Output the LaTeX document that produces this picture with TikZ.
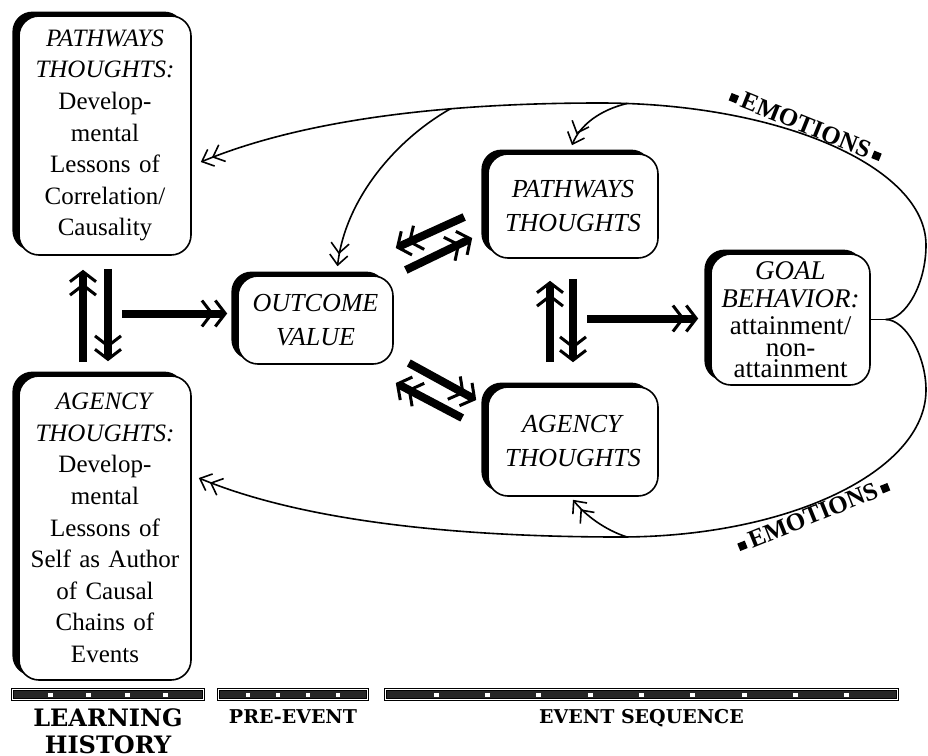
\documentclass[tikz,border=0pt]{standalone}
\usepackage{fontspec}
\setmainfont{Liberation Serif}
\newfontfamily\phasefont{DejaVu Serif}
\usetikzlibrary{arrows.meta}
\usetikzlibrary{calc}
\usetikzlibrary{shadows}
\usetikzlibrary{positioning}

\newcommand{\boxfont}{\fontsize{12.5}{15.8}\selectfont}
\newcommand{\midfont}{\fontsize{13}{17}\selectfont}
\newcommand{\goalfont}{\fontsize{13.5}{15}\selectfont}

% phase bar: name, left x, right x, number of flecks
\newcommand{\phasebar}[4]{%
  \node[phasebar, minimum width={(#3-#2)*0.5pt}, anchor=west] (#1) at (#2,694.5) {};
  \foreach \k in {1,...,#4}
  {
    \pgfmathsetmacro{\fr}{\k/(#4+1)}
    \fill[white] ($(#1.west)!\fr!(#1.east)$) ++(-1.2pt,-1pt) rectangle ++(2.4pt,2pt);
  }
}

\tikzset{
  thoughtbox/.style={draw, line width=0.8pt, rounded corners=10pt, fill=white,
    drop shadow={shadow xshift=-3.3pt, shadow yshift=2.2pt, opacity=1, fill=black},
    align=center, inner sep=1pt},
  fat/.style={line width=4pt,
    -{Straight Barb[length=5pt,width=13pt,line width=1.5pt] Straight Barb[length=5pt,width=13pt,line width=1.5pt]}},
  loopline/.style={line width=0.8pt},
  looparrow/.style={line width=0.8pt,
    -{Straight Barb[length=5pt,width=9pt] Straight Barb[length=5pt,width=9pt]}},
  phasebar/.style={draw, fill=black!85, double=white, double distance=0.5pt, line width=0.5pt,
    minimum height=5pt, inner sep=0pt},
  phaselabel/.style={font=\phasefont\bfseries\fontsize{9.5}{13}\selectfont, align=center, inner sep=0pt},
  emotion/.style={font=\bfseries\fontsize{12.5}{13}\selectfont, inner sep=0pt}
}

\begin{document}
\begin{tikzpicture}[x=0.5pt,y=-0.5pt]
  \useasboundingbox (0,0) rectangle (928,756);

  % Learning history
  \node[thoughtbox, minimum width=86pt, minimum height=119.5pt, text width=84pt, font=\boxfont] (pwl) at (105,135.5)
    {\textit{PATHWAYS}\\\textit{THOUGHTS:}\\Develop-\\mental\\Lessons of\\Correlation/\\Causality};
  \node[thoughtbox, minimum width=86pt, minimum height=152pt, text width=84pt, font=\boxfont] (agl) at (105,528)
    {\textit{AGENCY}\\\textit{THOUGHTS:}\\Develop-\\mental\\Lessons of\\Self as Author\\of Causal\\Chains of\\Events};

  % Pre-event
  \node[thoughtbox, minimum width=77.5pt, minimum height=44pt, font=\midfont] (ov) at (315.5,320)
    {\textit{OUTCOME}\\\textit{VALUE}};

  % Event sequence
  \node[thoughtbox, minimum width=85pt, minimum height=52pt, font=\midfont] (pt) at (573,206)
    {\textit{PATHWAYS}\\\textit{THOUGHTS}};
  \node[thoughtbox, minimum width=85pt, minimum height=54.5pt, font=\midfont] (at) at (573,441.5)
    {\textit{AGENCY}\\\textit{THOUGHTS}};
  \node[thoughtbox, minimum width=79.5pt, minimum height=65.5pt, font=\goalfont] (gb) at (790.5,319.5)
    {\textit{GOAL}\\[-1pt]\textit{BEHAVIOR:}\\[-1.5pt]attainment/\\[-4pt]non-\\[-4.5pt]attainment};

  % Fat arrows
  \coordinate (lh) at ($(pwl.south)!.5!(agl.north)$);
  \coordinate (ev) at ($(pt.south)!.5!(at.north)$);
  \draw[fat] ($(agl.north)+(-22,-13)$) -- ($(pwl.south)+(-22,14)$);
  \draw[fat] ($(pwl.south)+(3,13)$) -- ($(agl.north)+(3,-14)$);
  \draw[fat] ($(lh)+(17,-2)$) -- ($(ov.west)+(-10,-6.5)$);
  \draw[fat] ($(ov.east)+(12,-50)$) -- ($(pt.west)+(-15,32)$);
  \draw[fat] ($(pt.west)+(-23,11)$) -- ($(ov.east)+(2,-72)$);
  \draw[fat] ($(ov.east)+(15,43)$) -- ($(at.west)+(-11,-41.5)$);
  \draw[fat] ($(at.west)+(-25,-23.5)$) -- ($(ov.east)+(2,63)$);
  \draw[fat] ($(at.north)+(-23,-24)$) -- ($(pt.south)+(-23,22)$);
  \draw[fat] ($(pt.south)+(0,20)$) -- ($(at.north)+(0,-24)$);
  \draw[fat] ($(ev)+(14,-4)$) -- ($(gb.west)+(-12,-1)$);

  % Emotion loops
  \coordinate (fork) at ($(gb.east)+(15,0)$);
  \coordinate (ne) at (926,245);
  \coordinate (top) at (600,103);
  \coordinate (se) at (926,390);
  \coordinate (bot) at (620,537);
  \draw[loopline] (gb.east) -- (fork);
  \draw[looparrow] (fork) .. controls (905,319.5) and (926,285) .. (ne)
    .. controls (926,167) and (780,103) .. (top)
    .. controls (420,103) and (290,125) .. ($(pwl.east)+(9,26.5)$);
  \draw[looparrow] (451,108.5) .. controls (395,140) and (345,200) .. ($(ov.north)+(22,-9)$);
  \draw[looparrow] (627,103.5) .. controls (600,110) and (580,125) .. ($(pt.north)+(-1,-8)$);
  \draw[looparrow] (fork) .. controls (905,319.5) and (926,355) .. (se)
    .. controls (926,471) and (789,537) .. (bot)
    .. controls (450,537) and (300,520) .. ($(agl.east)+(7,-50)$);
  \draw[looparrow] (627,537) .. controls (605,530) and (585,515) .. ($(at.south)+(0,3)$);

  \node[emotion, rotate=-22] (emtop) at (806,125) {\rule[1pt]{4pt}{4pt}\,EMOTIONS\,\rule[1pt]{4pt}{4pt}};
  \node[emotion, rotate=22] (embot) at (813,515) {\rule[1pt]{4pt}{4pt}\,EMOTIONS\,\rule[1pt]{4pt}{4pt}};

  % Phase bars
  \phasebar{lhbar}{12}{203}{4}
  \phasebar{pebar}{218}{367}{4}
  \phasebar{esbar}{385}{897}{9}
  \node[phaselabel, font=\phasefont\bfseries\fontsize{12}{13.5}\selectfont, below=4pt of lhbar] (lhlab) {LEARNING\\HISTORY};
  \node[phaselabel, below=4.5pt of pebar] (pelab) {PRE-EVENT};
  \node[phaselabel, below=4.5pt of esbar] (eslab) {EVENT SEQUENCE};
\end{tikzpicture}
\end{document}
